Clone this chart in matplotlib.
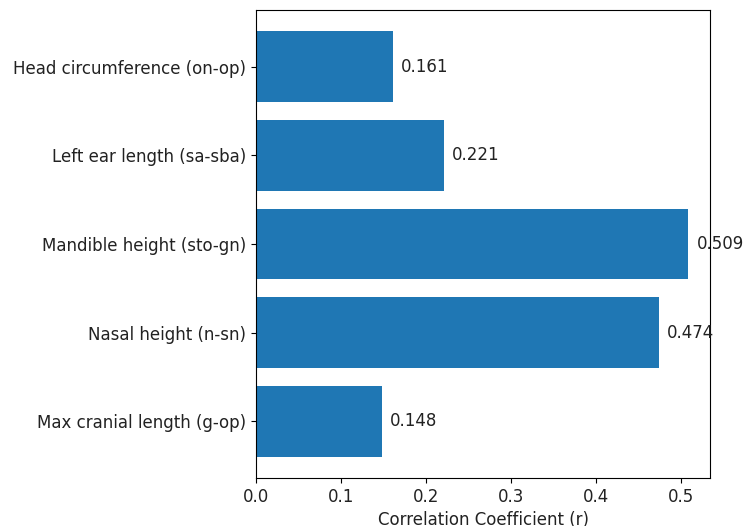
import matplotlib
matplotlib.use("Agg")
import matplotlib.pyplot as plt

categories = ["Max cranial length (g-op)", "Nasal height (n-sn)", "Mandible height (sto-gn)",
              "Left ear length (sa-sba)", "Head circumference (on-op)"]
values = [0.148, 0.474, 0.509, 0.221, 0.161]
labels = ["0.148", "0.474", "0.509", "0.221", "0.161"]

plt.rcParams["font.size"] = 12
fig = plt.figure(figsize=(7.44, 5.26), dpi=100)
ax = fig.add_axes([256/744, 1-478/526, (710-256)/744, (478-10)/526])
ax.barh(categories, values, color="#1f77b4")
for i, (v, t) in enumerate(zip(values, labels)):
    ax.text(v + 0.01, i, t, va="center", fontsize=12, color="#222222")
ax.tick_params(labelsize=12, labelcolor="#222222")
ax.set_xlabel("Correlation Coefficient (r)", fontsize=12, color="#222222")
fig.savefig("out.png", dpi=100)
